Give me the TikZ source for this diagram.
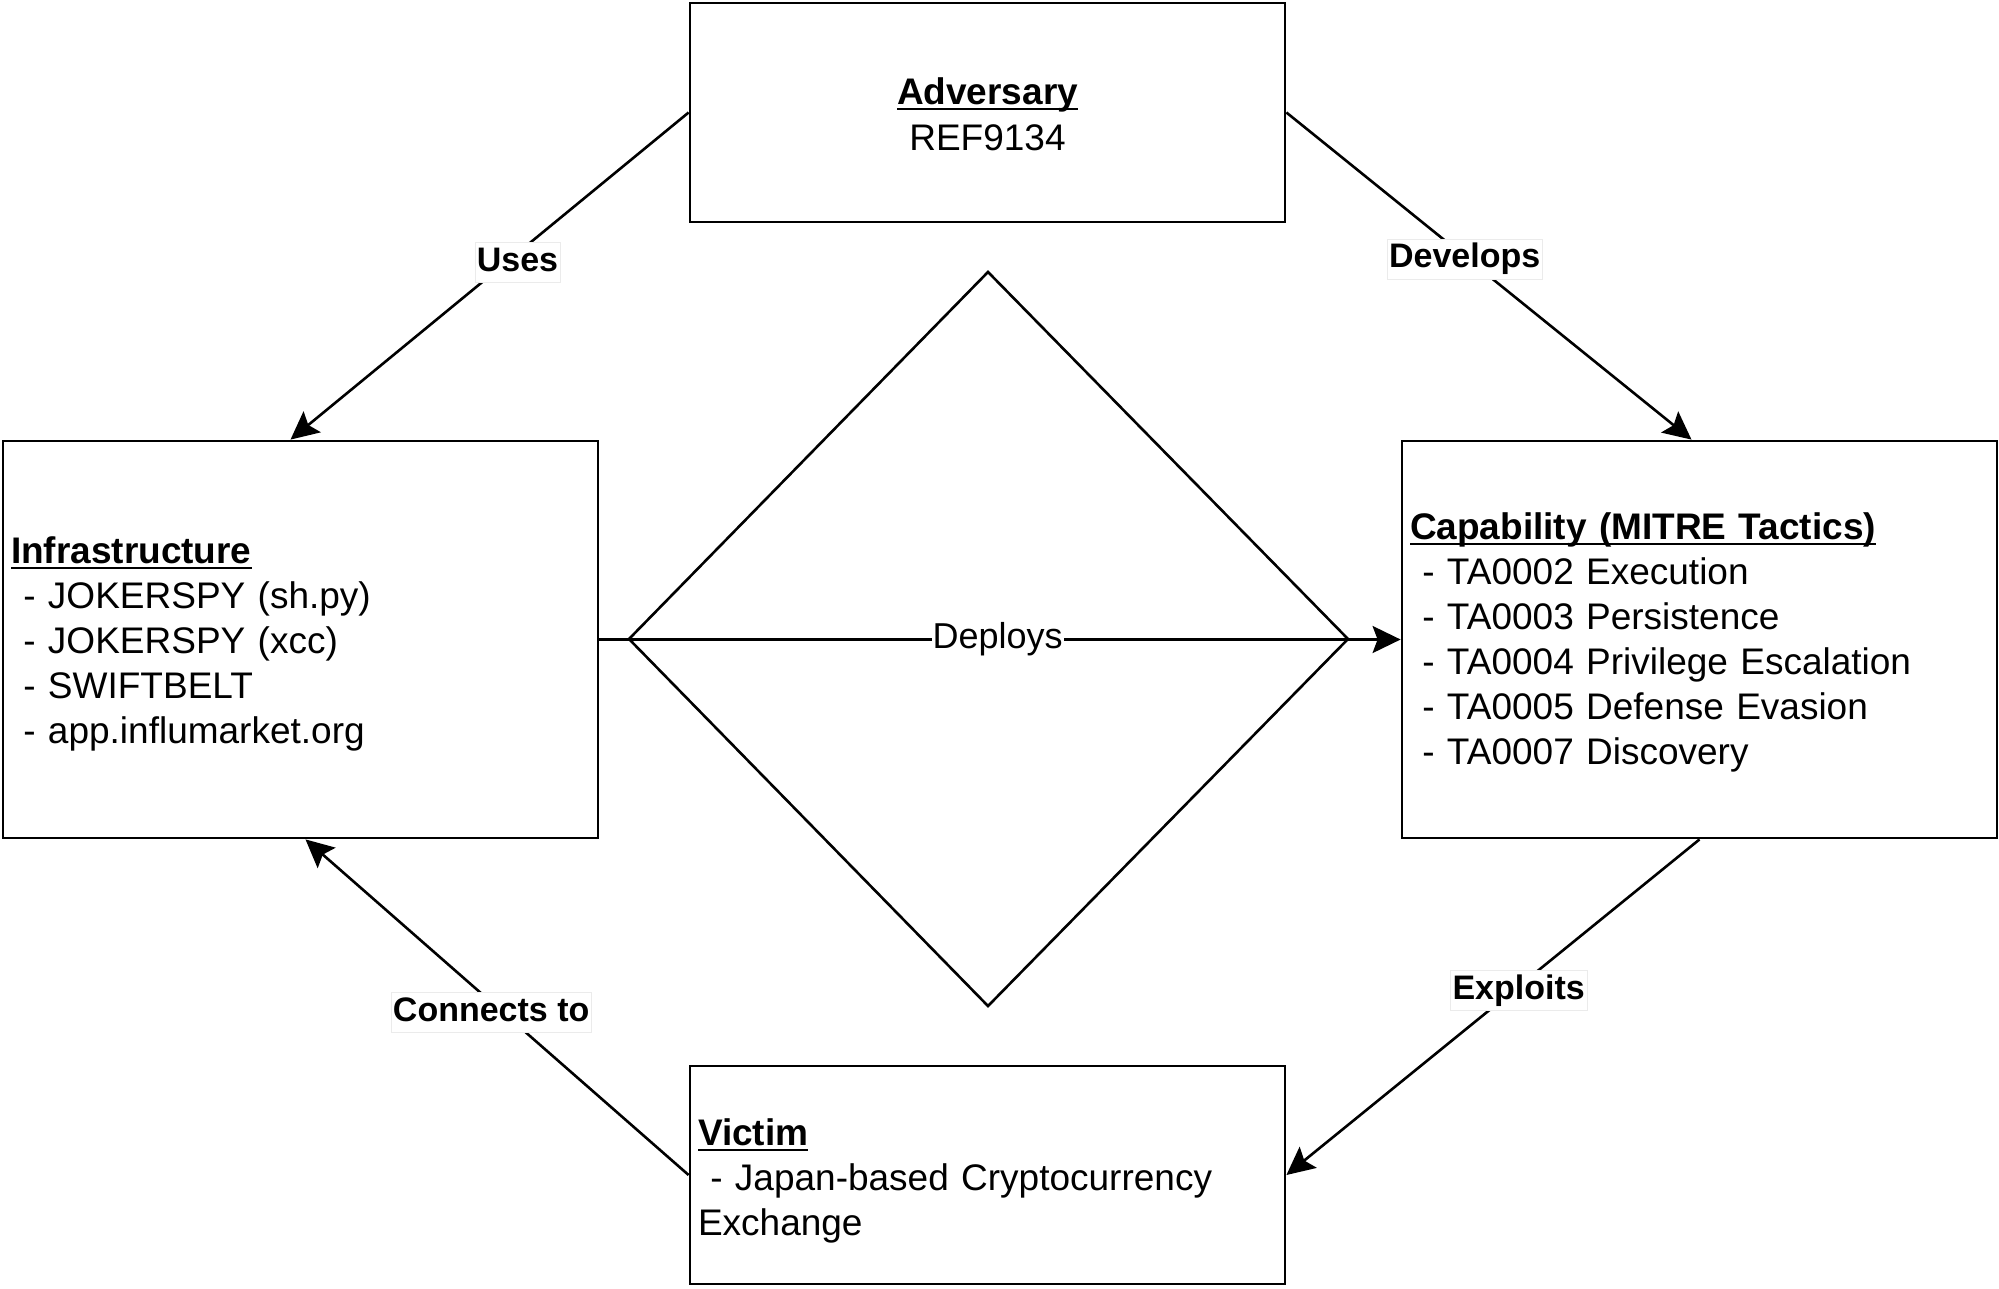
\documentclass[tikz,border=0pt]{standalone}
\usepackage{fontspec}
\setmainfont{Liberation Sans}
\usetikzlibrary{arrows.meta}
\newcommand{\myul}[1]{\begingroup\setbox0\hbox{#1}\rlap{\rule[-6pt]{\wd0}{2.5pt}}\box0\endgroup}
\begin{document}
\begin{tikzpicture}[x=1pt,y=-1pt,
  box/.style={draw=black, line width=2.8pt, rectangle, minimum width=595pt, inner sep=0pt},
  txt/.style={inner xsep=8pt, inner ysep=0pt, text width=579pt, font=\fontsize{37}{45}\selectfont},
  conn/.style={draw=black, line width=2.6pt, -{Stealth[length=28pt,width=27pt,inset=5pt]}},
  lbl/.style={fill=white, draw=black!8, line width=0.5pt, inner xsep=2pt, inner ysep=4pt, text height=25pt, text depth=7pt, font=\fontsize{34}{40}\bfseries\selectfont},
  dlbl/.style={fill=white, inner xsep=1pt, inner ysep=2pt, font=\fontsize{36}{42}\selectfont}
]
\useasboundingbox (0,0) rectangle (1999,1288);
\fill[white] (0,0) rectangle (1999,1288);

\node[box, minimum height=219pt] (adv) at (987.5,112.5) {};
\node[box, minimum height=397pt] (inf) at (300.5,639.5) {};
\node[box, minimum height=397pt] (cap) at (1699.5,639.5) {};
\node[box, minimum height=218pt] (vic) at (987.5,1175) {};

\node[txt, align=center] (advt) at ([yshift=-1.5pt]adv.center)
  {\textbf{\myul{Adversary}}\\[1pt]REF9134};
\node[txt, align=left] (inft) at ([yshift=-4pt]inf.center)
  {\textbf{\myul{Infrastructure}}\\
   \ - JOKERSPY (sh.py)\\
   \ - JOKERSPY (xcc)\\
   \ - SWIFTBELT\\
   \ - app.influmarket.org};
\node[txt, align=left] (capt) at ([yshift=-2.5pt]cap.center)
  {\textbf{\myul{Capability (MITRE Tactics)}}\\
   \ - TA0002 Execution\\
   \ - TA0003 Persistence\\
   \ - TA0004 Privilege Escalation\\
   \ - TA0005 Defense Evasion\\
   \ - TA0007 Discovery};
\node[txt, align=left] (vict) at ([yshift=-5.5pt]vic.center)
  {\textbf{\myul{Victim}}\\
   \ - Japan-based Cryptocurrency\\
   Exchange};

% diamond
\coordinate (dt) at (988,272);
\coordinate (dr) at (1348,639);
\coordinate (db) at (988,1006);
\coordinate (dl) at (629,639);
\draw[line width=2.6pt, line join=miter] (dt) -- (dr) -- (db) -- (dl) -- cycle;

% connectors
\draw[conn] (adv.west) -- node[lbl, pos=0.45, xshift=8pt, yshift=-2.5pt] {Uses} ([xshift=-10pt]inf.north);
\draw[conn] (adv.east) -- node[lbl, pos=0.44, yshift=-2.5pt] {Develops} ([xshift=-8pt]cap.north);
\draw[conn] (cap.south) -- node[lbl, pos=0.45, xshift=5pt] {Exploits} (vic.east);
\draw[conn] (vic.west) -- node[lbl, pos=0.484, xshift=-12pt] {Connects to} ([xshift=5pt]inf.south);
\draw[conn] (inf.east) -- node[dlbl, pos=0.497] {Deploys} (cap.west);
\end{tikzpicture}
\end{document}
